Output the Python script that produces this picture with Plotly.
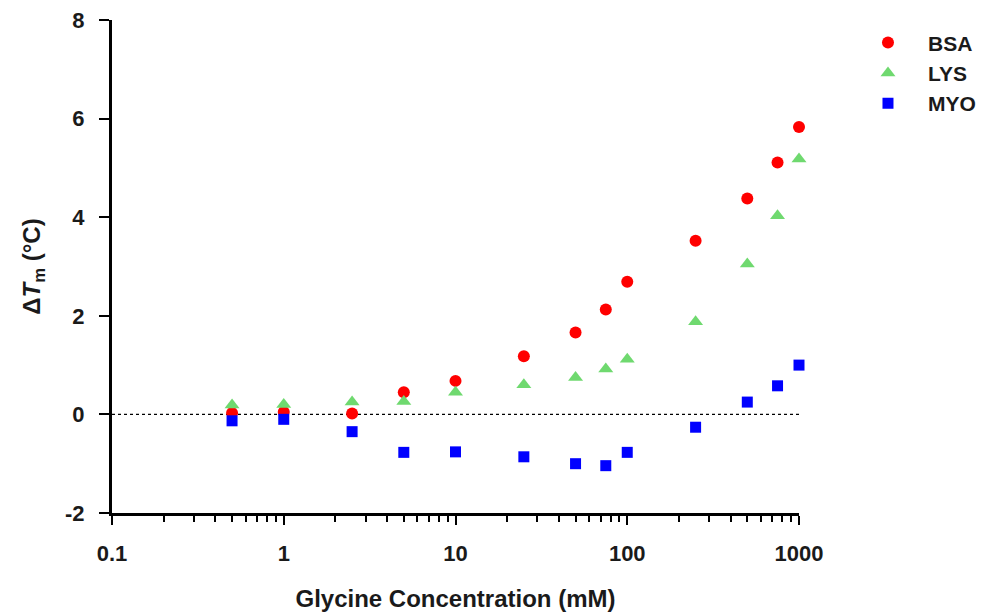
import plotly.graph_objects as go

conc = [0.5, 1, 2.5, 5, 10, 25, 50, 75, 100, 250, 500, 750, 1000]
bsa = [0.03, 0.05, 0.02, 0.45, 0.68, 1.18, 1.66, 2.13, 2.69, 3.52, 4.38, 5.11, 5.83]
lys = [0.19, 0.20, 0.25, 0.26, 0.45, 0.60, 0.75, 0.92, 1.12, 1.88, 3.05, 4.03, 5.18]
myo = [-0.13, -0.10, -0.35, -0.77, -0.76, -0.86, -1.00, -1.04, -0.77, -0.26, 0.25, 0.58, 1.00]

x_tickvals = [0.1, 1, 10, 100, 1000]
x_ticktext = ["0.1", "1", "10", "100", "1000"]
y_tickvals = [-2, 0, 2, 4, 6, 8]
y_ticktext = ["-2", "0", "2", "4", "6", "8"]

FONT = "Liberation Sans"
TXT = "#1a1a1a"

fig = go.Figure()
fig.add_trace(go.Scatter(x=conc, y=bsa, mode="markers", name="BSA", cliponaxis=False,
                         marker=dict(symbol="circle", size=12, color="#ff0000")))
fig.add_trace(go.Scatter(x=conc, y=lys, mode="markers", name="LYS", cliponaxis=False,
                         marker=dict(symbol="triangle-up", size=13, color="#6fd96f")))
fig.add_trace(go.Scatter(x=conc, y=myo, mode="markers", name="MYO", cliponaxis=False,
                         marker=dict(symbol="square", size=11, color="#0000ff")))

fig.add_hline(y=0, line=dict(color="black", width=1.3, dash="dot"), layer="below")

fig.update_layout(
    width=986, height=615,
    margin=dict(l=112, r=187, t=20, b=102, autoexpand=False),
    paper_bgcolor="white", plot_bgcolor="white",
    font=dict(family=FONT, color=TXT, size=21),
    showlegend=True,
    legend=dict(x=1.0713, y=0.995, xanchor="left", yanchor="top",
                font=dict(family=FONT, size=21, color=TXT, weight="bold"),
                itemwidth=70, tracegroupgap=0, bgcolor="rgba(0,0,0,0)"),
)

fig.update_xaxes(
    type="log", range=[-1, 3],
    tickvals=x_tickvals, ticktext=x_ticktext,
    showgrid=False, zeroline=False,
    showline=True, linecolor="black", linewidth=3,
    ticks="outside", ticklen=9, tickwidth=2, tickcolor="black",
    ticklabelstandoff=10,
    tickfont=dict(family=FONT, size=22, color=TXT, weight="bold"),
    minor=dict(ticks="outside", ticklen=6, tickwidth=2, tickcolor="black", dtick="D1", showgrid=False),
    title=dict(text="Glycine Concentration (mM)", standoff=25,
               font=dict(family=FONT, size=24, color=TXT, weight="bold")),
)
fig.update_yaxes(
    range=[-2, 8], tickvals=y_tickvals, ticktext=y_ticktext,
    showgrid=False, zeroline=False,
    showline=True, linecolor="black", linewidth=3,
    ticks="outside", ticklen=10, tickwidth=2, tickcolor="black",
    ticklabelstandoff=10,
    tickfont=dict(family=FONT, size=22, color=TXT, weight="bold"),
    title=dict(text="Δ<i>T</i><sub>m</sub> (°C)", standoff=18,
               font=dict(family=FONT, size=24, color=TXT, weight="bold")),
)

fig.write_html("out.html")
